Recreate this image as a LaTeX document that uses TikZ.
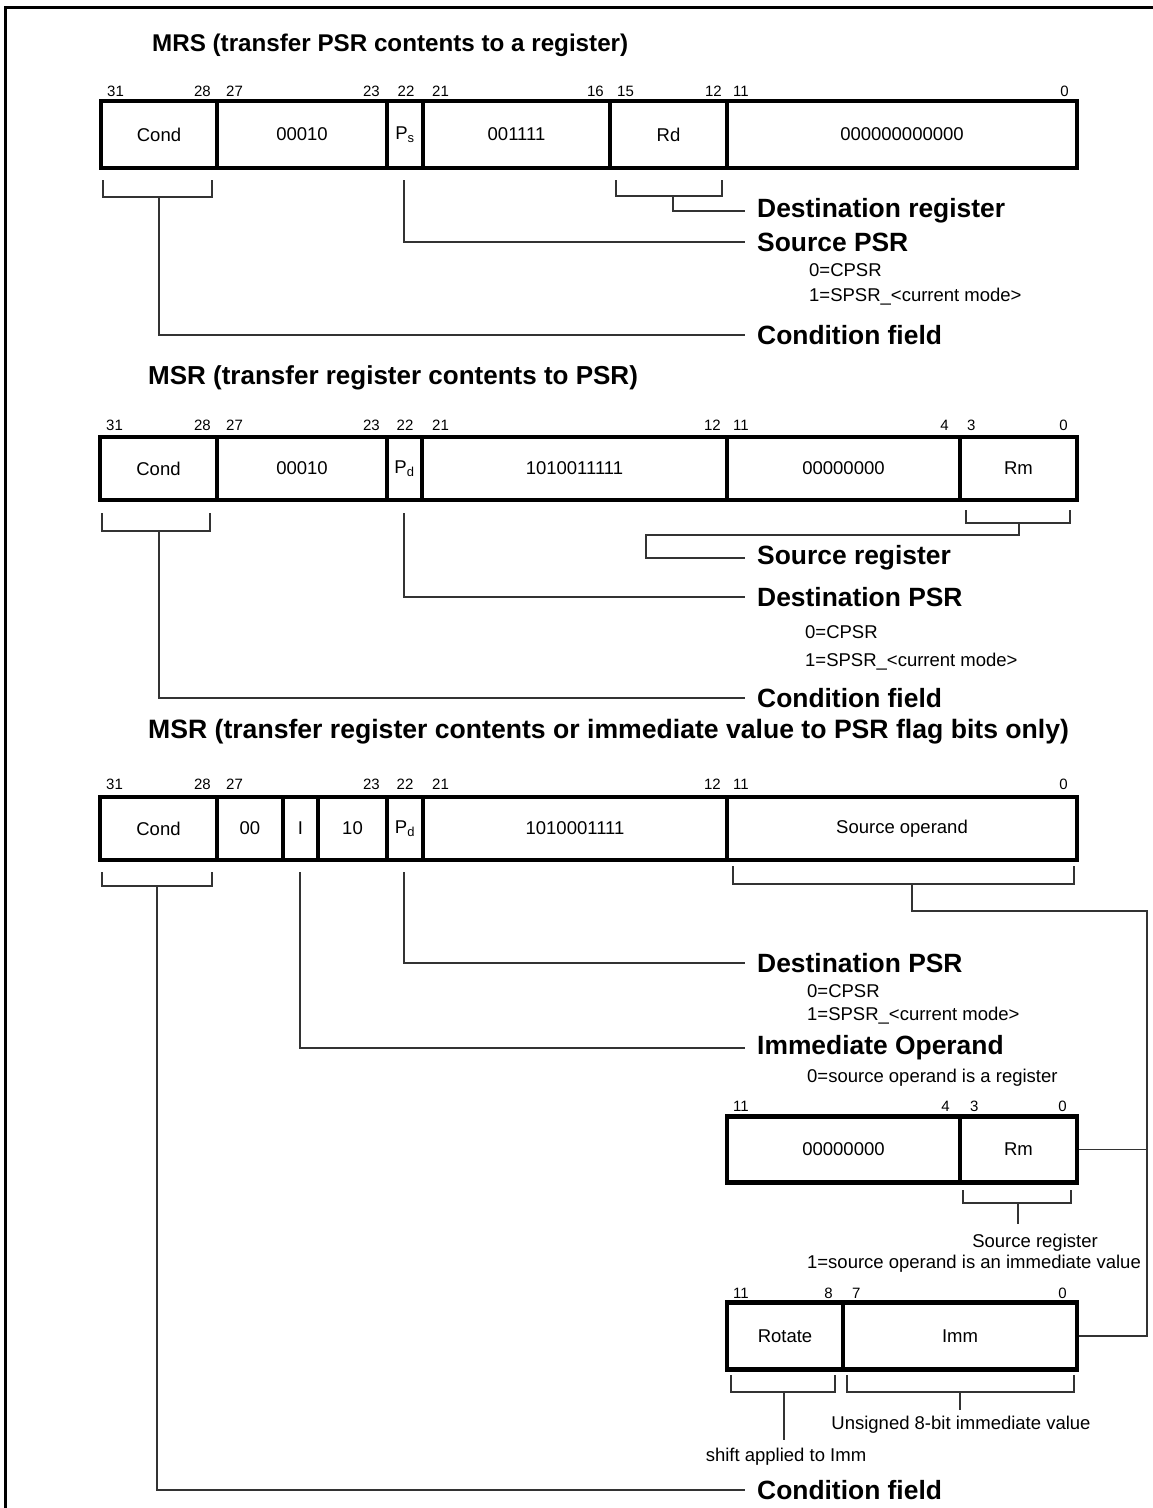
\documentclass[tikz,border=0pt]{standalone}
\usepackage{fontspec}
\setmainfont{Liberation Sans}
\begin{document}
\begin{tikzpicture}[x=1pt,y=-1pt,
  cell/.style={draw, line width=4.5pt, inner sep=0pt, font=\fontsize{18.5}{22}\selectfont},
  bigcell/.style={draw, line width=4.5pt, inner sep=0pt, font=\fontsize{18.5}{22}\selectfont},
  bitl/.style={font=\fontsize{15}{18}\selectfont, inner sep=0pt, anchor=base west},
  bitr/.style={font=\fontsize{15}{18}\selectfont, inner sep=0pt, anchor=base east},
  bitc/.style={font=\fontsize{15}{18}\selectfont, inner sep=0pt, anchor=base},
  head/.style={font=\fontsize{26}{30}\selectfont\bfseries, inner sep=0pt, anchor=west},
  lbl/.style={font=\fontsize{26.4}{30}\selectfont\bfseries, inner sep=0pt, anchor=west},
  note/.style={font=\fontsize{18.5}{22}\selectfont, inner sep=0pt, anchor=west},
  bignote/.style={font=\fontsize{18.5}{22}\selectfont, inner sep=0pt},
  wire/.style={line width=1.3pt, draw=black!80}
]
\useasboundingbox (0,0) rectangle (1153,1508);
\fill[white] (0,0) rectangle (1153,1508);
% frame
\draw[line width=3pt] (5,1508) -- (5,7) -- (1153,7);

% ================= Section 1: MRS =================
\node[head, font=\fontsize{24.2}{28}\selectfont\bfseries] (h1) at (152,45) {MRS (transfer PSR contents to a register)};
\node[cell, minimum width=116, minimum height=67] (c1a) at (159,134.5) {Cond};
\node[cell, minimum width=170, minimum height=67] (c1b) at (302,134.5) {00010};
\node[cell, minimum width=36, minimum height=67] (c1c) at (405,134.5) {P\textsubscript{s}};
\node[cell, minimum width=187, minimum height=67] (c1d) at (516.5,134.5) {001111};
\node[cell, minimum width=117, minimum height=67] (c1e) at (668.5,134.5) {Rd};
\node[cell, minimum width=350, minimum height=67] (c1f) at (902,134.5) {000000000000};
\node[bitl] (n1a) at (107,96) {31};
\node[bitr] (n1b) at (211,96) {28};
\node[bitl] (n1c) at (226,96) {27};
\node[bitr] (n1d) at (380,96) {23};
\node[bitc] (n1e) at (406,96) {22};
\node[bitl] (n1f) at (432,96) {21};
\node[bitr] (n1g) at (604,96) {16};
\node[bitl] (n1h) at (617,96) {15};
\node[bitr] (n1i) at (722,96) {12};
\node[bitl] (n1j) at (733,96) {11};
\node[bitr] (n1k) at (1069,96) {0};
\node[lbl] (l1dst) at (757,211) {Destination register};
\node[lbl] (l1src) at (757,242) {Source PSR};
\node[note] (t1a) at (809,270) {0=CPSR};
\node[note] (t1b) at (809,297) {1=SPSR\_<current mode>};
\node[lbl] (l1cond) at (757,335) {Condition field};
% brackets / connectors
\draw[wire] (103,180) -- (103,197) -- (212,197) -- (212,180);
\coordinate (b1cond) at (159,197);
\draw[wire] (b1cond) |- ([xshift=-12pt]l1cond.west);
\coordinate (b1ps) at (404,180);
\draw[wire] (b1ps) |- ([xshift=-12pt]l1src.west);
\draw[wire] (616,180) -- (616,196) -- (722,196) -- (722,180);
\coordinate (b1rd) at (673,196);
\draw[wire] (b1rd) |- ([xshift=-12pt]l1dst.west);

% ================= Section 2: MSR =================
\node[head] (h2) at (148,378) {MSR (transfer register contents to PSR)};
\node[cell, minimum width=117, minimum height=63] (c2a) at (158.5,468.5) {Cond};
\node[cell, minimum width=170, minimum height=63] (c2b) at (302,468.5) {00010};
\node[cell, minimum width=35, minimum height=63] (c2c) at (404.5,468.5) {P\textsubscript{d}};
\node[cell, minimum width=305, minimum height=63] (c2d) at (574.5,468.5) {1010011111};
\node[cell, minimum width=233, minimum height=63] (c2e) at (843.5,468.5) {00000000};
\node[cell, minimum width=117, minimum height=63] (c2f) at (1018.5,468.5) {Rm};
\node[bitl] (n2a) at (106,430) {31};
\node[bitr] (n2b) at (211,430) {28};
\node[bitl] (n2c) at (226,430) {27};
\node[bitr] (n2d) at (380,430) {23};
\node[bitc] (n2e) at (405,430) {22};
\node[bitl] (n2f) at (432,430) {21};
\node[bitr] (n2g) at (721,430) {12};
\node[bitl] (n2h) at (733,430) {11};
\node[bitr] (n2i) at (949,430) {4};
\node[bitl] (n2j) at (967,430) {3};
\node[bitr] (n2k) at (1068,430) {0};
\node[lbl] (l2src) at (757,558) {Source register};
\node[lbl] (l2dst) at (757,597) {Destination PSR};
\node[note] (t2a) at (805,632) {0=CPSR};
\node[note] (t2b) at (805,662) {1=SPSR\_<current mode>};
\node[lbl] (l2cond) at (757,698) {Condition field};
\draw[wire] (102,513) -- (102,531) -- (210,531) -- (210,513);
\coordinate (b2cond) at (159,531);
\draw[wire] (b2cond) |- ([xshift=-12pt]l2cond.west);
\coordinate (b2pd) at (404,513);
\draw[wire] (b2pd) |- ([xshift=-12pt]l2dst.west);
\draw[wire] (966,510) -- (966,523) -- (1070,523) -- (1070,510);
\coordinate (b2rm) at (1019,523);
\draw[wire] (b2rm) -- (1019,535) -- (646,535) |- ([xshift=-12pt]l2src.west);

% ================= Section 3: MSR flags =================
\node[head, font=\fontsize{26.6}{30}\selectfont\bfseries] (h3) at (148,732) {MSR (transfer register contents or immediate value to PSR flag bits only)};
\node[cell, minimum width=117, minimum height=63] (c3a) at (158.5,828.5) {Cond};
\node[cell, minimum width=66, minimum height=63] (c3b) at (250,828.5) {00};
\node[cell, minimum width=35, minimum height=63] (c3c) at (300.5,828.5) {I};
\node[cell, minimum width=69, minimum height=63] (c3d) at (352.5,828.5) {10};
\node[cell, minimum width=36, minimum height=63] (c3e) at (405,828.5) {P\textsubscript{d}};
\node[cell, minimum width=304, minimum height=63] (c3f) at (575,828.5) {1010001111};
\node[cell, minimum width=350, minimum height=63] (c3g) at (902,828.5) {Source operand};
\node[bitl] (n3a) at (106,789) {31};
\node[bitr] (n3b) at (211,789) {28};
\node[bitl] (n3c) at (226,789) {27};
\node[bitr] (n3d) at (380,789) {23};
\node[bitc] (n3e) at (405,789) {22};
\node[bitl] (n3f) at (432,789) {21};
\node[bitr] (n3g) at (721,789) {12};
\node[bitl] (n3h) at (733,789) {11};
\node[bitr] (n3i) at (1068,789) {0};
\node[lbl] (l3dst) at (757,963) {Destination PSR};
\node[note] (t3a) at (807,991) {0=CPSR};
\node[note] (t3b) at (807,1016) {1=SPSR\_<current mode>};
\node[lbl] (l3imm) at (757,1048) {Immediate Operand};
\node[note] (t3c) at (807,1078) {0=source operand is a register};
\node[lbl] (l3cond) at (757,1490) {Condition field};

% sub box 1
\node[bigcell, minimum width=233, minimum height=66] (s1a) at (843.5,1149.5) {00000000};
\node[bigcell, minimum width=117, minimum height=66] (s1b) at (1018.5,1149.5) {Rm};
\node[bitl] (m1a) at (733,1111) {11};
\node[bitr] (m1b) at (950,1111) {4};
\node[bitl] (m1c) at (970,1111) {3};
\node[bitr] (m1d) at (1067,1111) {0};
\node[bignote] (t3d) at (1035,1243) {Source register};
\node[bignote] (t3e) at (974,1264) {1=source operand is an immediate value};

% sub box 2
\node[bigcell, minimum width=116, minimum height=67] (s2a) at (785,1336) {Rotate};
\node[bigcell, minimum width=234, minimum height=67] (s2b) at (960,1336) {Imm};
\node[bitl] (m2a) at (733,1298) {11};
\node[bitr] (m2b) at (833,1298) {8};
\node[bitl] (m2c) at (852,1298) {7};
\node[bitr] (m2d) at (1067,1298) {0};
\node[bignote] (t3f) at (961,1425) {Unsigned 8-bit immediate value};
\node[bignote] (t3g) at (786,1457) {shift applied to Imm};

% connectors section 3
\draw[wire] (102,872) -- (102,886) -- (212,886) -- (212,872);
\coordinate (b3cond) at (157,886);
\draw[wire] (b3cond) |- ([xshift=-12pt]l3cond.west);
\coordinate (b3i) at (300,872);
\draw[wire] (b3i) |- ([xshift=-12pt]l3imm.west);
\coordinate (b3pd) at (404,872);
\draw[wire] (b3pd) |- ([xshift=-12pt]l3dst.west);
\draw[wire] (733,866) -- (733,884) -- (1074,884) -- (1074,866);
\coordinate (b3so) at (912,884);
\coordinate (bus) at (1147,911);
\draw[wire] (b3so) |- (bus) |- (s2b.east);
\draw[wire] (s1b.east) -- (s1b.east -| bus);
\draw[wire] (963,1190) -- (963,1203) -- (1071,1203) -- (1071,1190);
\coordinate (b3rm) at (1018,1203);
\draw[wire] (b3rm) -- ([yshift=-21pt]b3rm);
\draw[wire] (731,1375) -- (731,1392) -- (835,1392) -- (835,1375);
\coordinate (b3rot) at (784,1392);
\draw[wire] (b3rot) -- ([yshift=-48pt]b3rot);
\draw[wire] (847,1375) -- (847,1392) -- (1074,1392) -- (1074,1375);
\coordinate (b3imm) at (960,1392);
\draw[wire] (b3imm) -- ([yshift=-18pt]b3imm);
\end{tikzpicture}
\end{document}
